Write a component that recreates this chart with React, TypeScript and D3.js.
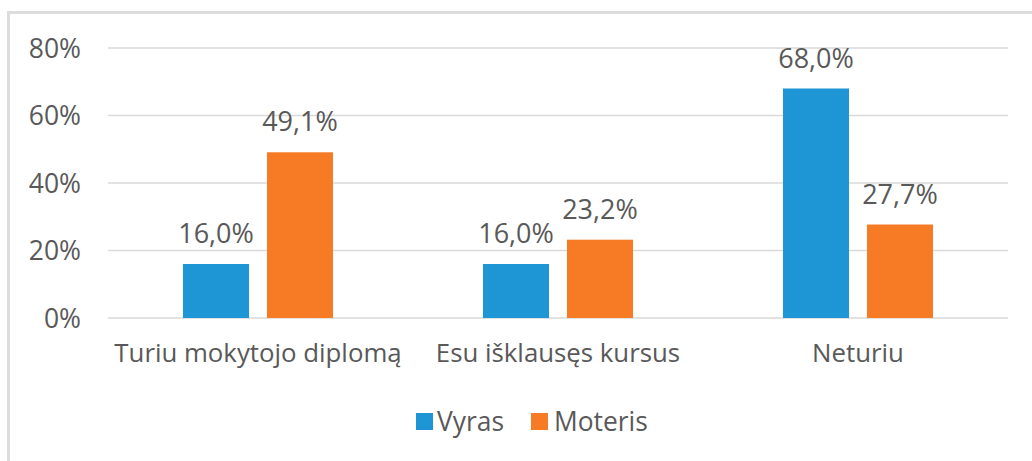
import React from "react";
import * as d3 from "d3";

const categories = ["Turiu mokytojo diplomą", "Esu išklausęs kursus", "Neturiu"];
const seriesNames = ["Vyras", "Moteris"];
const vyras = [16.0, 16.0, 68.0];
const moteris = [49.1, 23.2, 27.7];
const yTicks = [0, 20, 40, 60, 80];
const colors = ["#1E96D6", "#F77B25"];

const W = 1032;
const H = 461;
const FONT = "'Open Sans', sans-serif";
const TEXT = "#595959";

export default function App() {
  const x = d3.scaleBand<string>().domain(categories).range([108, 1008]);
  const xi = d3
    .scaleBand<string>()
    .domain(seriesNames)
    .range([0, x.bandwidth()])
    .paddingInner(18 / 84)
    .paddingOuter(0.893);
  const y = d3.scaleLinear().domain([0, 80]).range([318, 48]);
  const values = [vyras, moteris];
  const fmt = (v: number) => v.toFixed(1).replace(".", ",") + "%";

  const legendItems = [
    { name: seriesNames[0], sx: 416, tx: 437 },
    { name: seriesNames[1], sx: 531, tx: 554 },
  ];

  return (
    <svg
      width={W}
      height={H}
      style={{ position: "absolute", left: 0, top: 0, background: "#fff" }}
      fontFamily={FONT}
    >
      <rect x={0} y={0} width={W} height={H} fill="#fff" />
      {/* frame */}
      <line x1={7} x2={W} y1={12.5} y2={12.5} stroke="#dcdcdc" strokeWidth={3} />
      <line x1={8.5} x2={8.5} y1={11} y2={H} stroke="#dcdcdc" strokeWidth={3} />
      {/* gridlines */}
      {yTicks.map((t) => (
        <line
          key={t}
          x1={108}
          x2={1008}
          y1={y(t)}
          y2={y(t)}
          stroke="#d9d9d9"
          strokeWidth={1.5}
        />
      ))}
      {/* y tick labels */}
      {yTicks.map((t) => (
        <text
          key={"l" + t}
          x={81}
          y={y(t) + 9.5}
          textAnchor="end"
          fontSize={26.5}
          fill={TEXT}
        >
          {t + "%"}
        </text>
      ))}
      {/* bars */}
      {categories.map((c, ci) =>
        seriesNames.map((s, si) => {
          const v = values[si][ci];
          const bx = (x(c) as number) + (xi(s) as number);
          return (
            <g key={c + s}>
              <rect
                x={bx}
                y={y(v)}
                width={xi.bandwidth()}
                height={y(0) - y(v)}
                fill={colors[si]}
              />
              <text
                x={bx + xi.bandwidth() / 2}
                y={y(v) - 21}
                textAnchor="middle"
                fontSize={27}
                fill={TEXT}
              >
                {fmt(v)}
              </text>
            </g>
          );
        })
      )}
      {/* category labels */}
      {categories.map((c) => (
        <text
          key={"c" + c}
          x={(x(c) as number) + x.bandwidth() / 2}
          y={362}
          textAnchor="middle"
          fontSize={25.8}
          fill={TEXT}
        >
          {c}
        </text>
      ))}
      {/* legend */}
      {legendItems.map((it, i) => (
        <g key={it.name}>
          <rect x={it.sx} y={413} width={17} height={17} fill={colors[i]} />
          <text x={it.tx} y={431} fontSize={26.4} fill={TEXT}>
            {it.name}
          </text>
        </g>
      ))}
    </svg>
  );
}
